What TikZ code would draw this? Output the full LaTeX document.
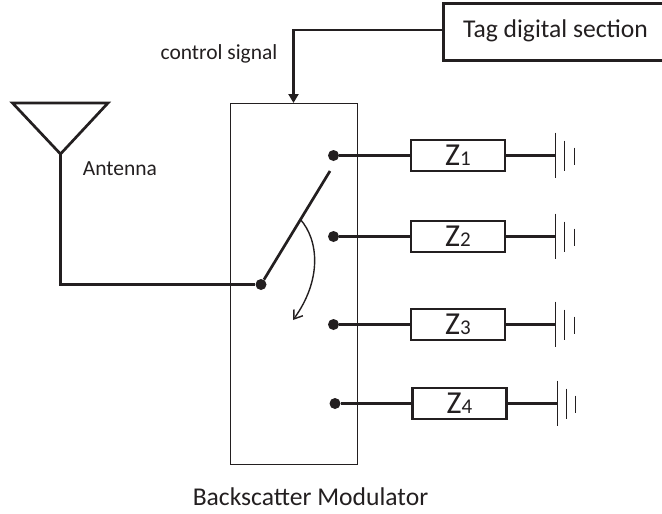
\documentclass[tikz,border=0pt]{standalone}
\usepackage{fontspec}
\setmainfont{Carlito}
\usetikzlibrary{arrows.meta,calc}
\definecolor{ink}{HTML}{231F20}
\tikzset{
  x=1pt,y=-1pt,
  wire/.style={draw=ink,line width=2.7pt},
  thin wire/.style={draw=ink,line width=1.4pt},
  imp/.style={draw=ink,line width=2.7pt,fill=white,minimum width=94pt,minimum height=31pt,inner sep=0pt,font=\fontsize{32}{34}\selectfont,text=ink},
  lab/.style={inner sep=0pt,text=ink},
  dot/.style={circle,fill=ink,inner sep=0pt,minimum size=11pt},
  gnd/.style={draw=ink,line width=1.3pt}
}
\newcommand{\zlabel}[1]{Z{\fontsize{21}{22}\selectfont #1}}
\begin{document}
\begin{tikzpicture}
\useasboundingbox (0,0) rectangle (662,514);
\node[draw=ink,line width=2.7pt,minimum width=222pt,minimum height=57pt,inner sep=0pt,anchor=north west] (tag) at (442,2) {};
\node[lab,font=\fontsize{25.6}{28}\selectfont] (tagt) at (555.5,30.5) {Tag digital section};
\node[draw=ink,line width=1.2pt,minimum width=127pt,minimum height=361pt,inner sep=0pt,anchor=north west] (mod) at (230,103) {};
\coordinate (ctl) at (293.5,103);
\draw[wire,-{Triangle[length=9pt,width=10pt]}] (tag.west |- 0,30) -| (ctl);
\node[lab,font=\fontsize{21.5}{24}\selectfont] at (219,54) {control signal};
\node[lab,font=\fontsize{21.5}{24}\selectfont] at (120,169) {Antenna};
\coordinate (a1) at (12.5,103);
\coordinate (a2) at (108,103);
\coordinate (a3) at (60.5,154);
\draw[wire] (a1) -- (a2) -- (a3) -- cycle;
\node[dot] (pivot) at (261,284.5) {};
\draw[wire] (a3) |- (pivot);
\coordinate (tip) at (330,171);
\draw[wire] (pivot) -- (tip);
\coordinate (s) at (300,219);
\coordinate (e) at (293,320);
\draw[thin wire,-{Straight Barb[length=8pt,width=11pt]}] (s) .. controls (319,240) and (322,280) .. (e);
\foreach \n/\lbl/\dx/\y in {1/1/0/155.5,2/2/0/236.5,3/3/0/324.5,4/4/1.5/403.5}{
  \node[dot] (d\n) at (333.5+\dx,\y) {};
  \node[imp] (z\n) at (458+\dx,\y) {\zlabel{\lbl}};
  \coordinate (g\n) at (555.7+\dx,\y);
  \draw[wire] (d\n) -- (z\n);
  \draw[wire] (z\n) -- (g\n);
  \draw[gnd] ($(g\n)+(0,-23)$) -- ($(g\n)+(0,22)$);
  \draw[gnd] ($(g\n)+(9,-15)$) -- ($(g\n)+(9,15)$);
  \draw[gnd] ($(g\n)+(18.5,-8)$) -- ($(g\n)+(18.5,9)$);
}
\node[lab,font=\fontsize{25.6}{28}\selectfont] at (310.5,497) {Backscatter Modulator};
\end{tikzpicture}
\end{document}
